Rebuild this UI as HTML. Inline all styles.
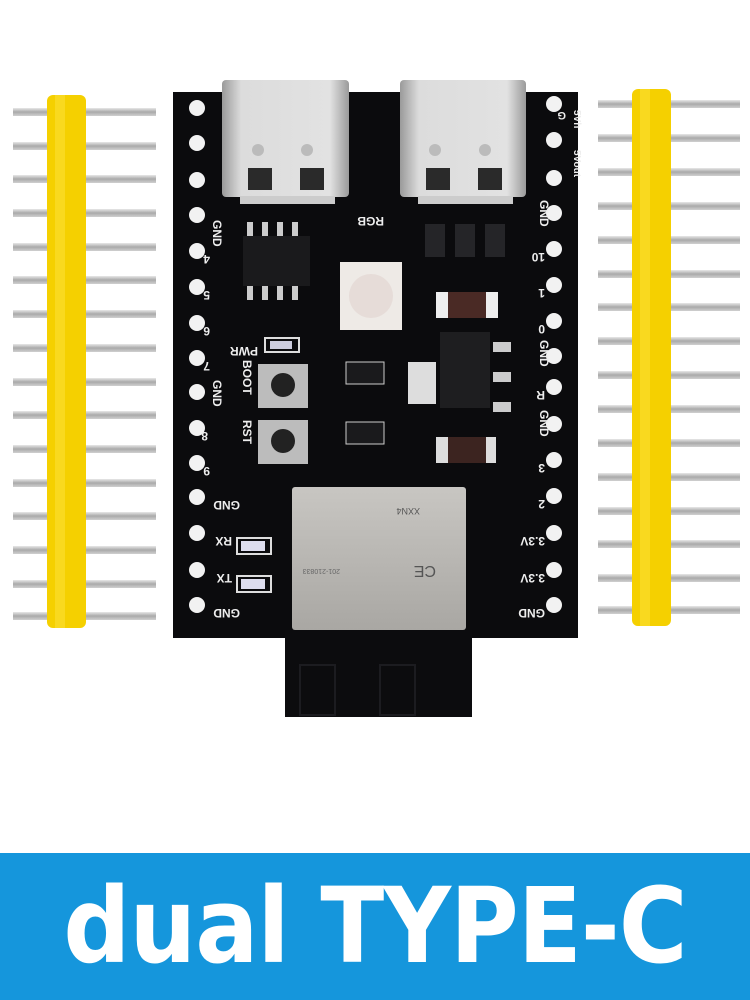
<!DOCTYPE html>
<html><head><meta charset="utf-8"><style>
html,body{margin:0;padding:0;background:#fff}
body{width:750px;height:1000px;position:relative;overflow:hidden}
svg{position:absolute;left:0;top:0}
.banner{position:absolute;left:0;top:853px;width:750px;height:147px;background:#1596dc}
.banner div{position:absolute;left:0;top:0;width:750px;text-align:center;color:#fff;font:bold 104px "DejaVu Sans","Liberation Sans",sans-serif;line-height:147px;transform:scaleX(0.9);transform-origin:375px 0;letter-spacing:-1px}
</style></head><body>
<svg width="750" height="860" xmlns="http://www.w3.org/2000/svg" font-family="Liberation Sans, sans-serif">
<defs>
<linearGradient id="pin" x1="0" y1="0" x2="0" y2="1"><stop offset="0" stop-color="#e8e8e8"/><stop offset="0.5" stop-color="#a9a9a9"/><stop offset="1" stop-color="#d0d0d0"/></linearGradient>
<linearGradient id="usb" x1="0" y1="0" x2="1" y2="0"><stop offset="0" stop-color="#9a9a9a"/><stop offset="0.15" stop-color="#dcdcdc"/><stop offset="0.85" stop-color="#e2e2e2"/><stop offset="1" stop-color="#9a9a9a"/></linearGradient>
<linearGradient id="shield" x1="0" y1="0" x2="0" y2="1"><stop offset="0" stop-color="#c8c6c2"/><stop offset="1" stop-color="#a9a7a3"/></linearGradient>
</defs>
<!-- left header pins -->
<g fill="url(#pin)">
<rect x="13" y="108" width="143" height="8"/><rect x="13" y="142" width="143" height="8"/><rect x="13" y="175" width="143" height="8"/><rect x="13" y="209" width="143" height="8"/><rect x="13" y="243" width="143" height="8"/><rect x="13" y="276" width="143" height="8"/><rect x="13" y="310" width="143" height="8"/><rect x="13" y="344" width="143" height="8"/><rect x="13" y="378" width="143" height="8"/><rect x="13" y="411" width="143" height="8"/><rect x="13" y="445" width="143" height="8"/><rect x="13" y="479" width="143" height="8"/><rect x="13" y="512" width="143" height="8"/><rect x="13" y="546" width="143" height="8"/><rect x="13" y="580" width="143" height="8"/><rect x="13" y="612" width="143" height="8"/>
</g>
<rect x="47" y="95" width="39" height="533" rx="6" fill="#f5d000"/>
<rect x="55" y="95" width="10" height="533" fill="#fbe033" opacity="0.6"/>
<!-- right header pins -->
<g fill="url(#pin)">
<rect x="598" y="100" width="142" height="8"/><rect x="598" y="134" width="142" height="8"/><rect x="598" y="168" width="142" height="8"/><rect x="598" y="202" width="142" height="8"/><rect x="598" y="236" width="142" height="8"/><rect x="598" y="270" width="142" height="8"/><rect x="598" y="303" width="142" height="8"/><rect x="598" y="337" width="142" height="8"/><rect x="598" y="371" width="142" height="8"/><rect x="598" y="405" width="142" height="8"/><rect x="598" y="439" width="142" height="8"/><rect x="598" y="473" width="142" height="8"/><rect x="598" y="507" width="142" height="8"/><rect x="598" y="540" width="142" height="8"/><rect x="598" y="574" width="142" height="8"/><rect x="598" y="606" width="142" height="8"/>
</g>
<rect x="632" y="89" width="39" height="537" rx="6" fill="#f5d000"/>
<rect x="640" y="89" width="10" height="537" fill="#fbe033" opacity="0.6"/>
<!-- board -->
<rect x="173" y="92" width="405" height="546" fill="#0b0b0d"/>
<rect x="285" y="630" width="187" height="87" fill="#0c0c0e"/>
<g stroke="#1c1c20" stroke-width="2" fill="none"><rect x="300" y="665" width="35" height="50"/><rect x="380" y="665" width="35" height="50"/></g>
<!-- USB connectors -->
<rect x="222" y="80" width="127" height="117" rx="4" fill="url(#usb)"/>
<rect x="400" y="80" width="126" height="117" rx="4" fill="url(#usb)"/>
<g fill="#2a2a2a"><rect x="248" y="168" width="24" height="22"/><rect x="300" y="168" width="24" height="22"/><rect x="426" y="168" width="24" height="22"/><rect x="478" y="168" width="24" height="22"/></g>
<g fill="#bbb"><circle cx="258" cy="150" r="6"/><circle cx="307" cy="150" r="6"/><circle cx="435" cy="150" r="6"/><circle cx="485" cy="150" r="6"/></g>
<g fill="#ccc"><rect x="240" y="196" width="95" height="8"/><rect x="418" y="196" width="95" height="8"/></g>
<!-- ICs -->
<rect x="243" y="236" width="67" height="50" fill="#1a1a1c"/>
<g fill="#ccc"><rect x="247" y="222" width="6" height="14"/><rect x="262" y="222" width="6" height="14"/><rect x="277" y="222" width="6" height="14"/><rect x="292" y="222" width="6" height="14"/><rect x="247" y="286" width="6" height="14"/><rect x="262" y="286" width="6" height="14"/><rect x="277" y="286" width="6" height="14"/><rect x="292" y="286" width="6" height="14"/></g>
<rect x="340" y="262" width="62" height="68" fill="#eeeae6"/>
<circle cx="371" cy="296" r="22" fill="#e6dcd8"/>
<g fill="#252528"><rect x="425" y="224" width="20" height="33"/><rect x="455" y="224" width="20" height="33"/><rect x="485" y="224" width="20" height="33"/></g>
<rect x="436" y="292" width="62" height="26" fill="#eee"/><rect x="448" y="292" width="38" height="26" fill="#4a2a25"/>
<rect x="440" y="332" width="50" height="76" fill="#1e1e20"/>
<rect x="408" y="362" width="28" height="42" fill="#ddd"/>
<g fill="#ccc"><rect x="493" y="342" width="18" height="10"/><rect x="493" y="372" width="18" height="10"/><rect x="493" y="402" width="18" height="10"/></g>
<rect x="436" y="437" width="60" height="26" fill="#ddd"/><rect x="448" y="437" width="38" height="26" fill="#3c2420"/>
<rect x="346" y="362" width="38" height="22" fill="#1a1a1c" stroke="#ccc" stroke-width="1"/>
<rect x="346" y="422" width="38" height="22" fill="#1a1a1c" stroke="#ccc" stroke-width="1"/>
<!-- buttons -->
<rect x="258" y="364" width="50" height="44" fill="#bcbcbc"/><circle cx="283" cy="385" r="12" fill="#222"/>
<rect x="258" y="420" width="50" height="44" fill="#bcbcbc"/><circle cx="283" cy="441" r="12" fill="#222"/>
<rect x="265" y="338" width="34" height="14" fill="none" stroke="#ddd" stroke-width="2"/><rect x="270" y="341" width="22" height="8" fill="#ccd"/>
<rect x="237" y="538" width="34" height="16" fill="none" stroke="#ddd" stroke-width="2"/><rect x="241" y="541" width="24" height="10" fill="#dde"/>
<rect x="237" y="576" width="34" height="16" fill="none" stroke="#ddd" stroke-width="2"/><rect x="241" y="579" width="24" height="10" fill="#dde"/>
<!-- shield -->
<rect x="292" y="487" width="174" height="143" rx="3" fill="url(#shield)"/>
<text x="420" y="514" font-size="9" fill="#555" transform="rotate(180 420 511)">XXN4</text>
<text x="380" y="575" font-size="7" fill="#666" transform="rotate(180 360 572)">201-210833</text>
<text x="420" y="578" font-size="16" fill="#555" transform="rotate(180 428 572)">CE</text>
<!-- holes -->
<g fill="#f2f2f2">
<circle cx="197" cy="108" r="8"/><circle cx="197" cy="143" r="8"/><circle cx="197" cy="180" r="8"/><circle cx="197" cy="215" r="8"/><circle cx="197" cy="251" r="8"/><circle cx="197" cy="287" r="8"/><circle cx="197" cy="323" r="8"/><circle cx="197" cy="358" r="8"/><circle cx="197" cy="392" r="8"/><circle cx="197" cy="428" r="8"/><circle cx="197" cy="463" r="8"/><circle cx="197" cy="497" r="8"/><circle cx="197" cy="533" r="8"/><circle cx="197" cy="570" r="8"/><circle cx="197" cy="605" r="8"/>
<circle cx="554" cy="104" r="8"/><circle cx="554" cy="140" r="8"/><circle cx="554" cy="178" r="8"/><circle cx="554" cy="213" r="8"/><circle cx="554" cy="249" r="8"/><circle cx="554" cy="285" r="8"/><circle cx="554" cy="321" r="8"/><circle cx="554" cy="356" r="8"/><circle cx="554" cy="387" r="8"/><circle cx="554" cy="424" r="8"/><circle cx="554" cy="460" r="8"/><circle cx="554" cy="496" r="8"/><circle cx="554" cy="533" r="8"/><circle cx="554" cy="570" r="8"/><circle cx="554" cy="605" r="8"/>
</g>
<!-- labels (upside-down silkscreen) -->
<g fill="#eee" font-size="12" font-weight="bold">
<text transform="translate(213,220) rotate(90)">GND</text>
<text transform="translate(210,255) rotate(180)">4</text>
<text transform="translate(210,291) rotate(180)">5</text>
<text transform="translate(210,327) rotate(180)">6</text>
<text transform="translate(210,362) rotate(180)">7</text>
<text transform="translate(213,380) rotate(90)">GND</text>
<text transform="translate(208,432) rotate(180)">8</text>
<text transform="translate(210,467) rotate(180)">9</text>
<text transform="translate(240,501) rotate(180)">GND</text>
<text transform="translate(232,537) rotate(180)">RX</text>
<text transform="translate(232,574) rotate(180)">TX</text>
<text transform="translate(240,609) rotate(180)">GND</text>
<text transform="translate(258,347) rotate(180)">PWR</text>
<text transform="translate(243,360) rotate(90)">BOOT</text>
<text transform="translate(243,420) rotate(90)">RST</text>
<text transform="translate(384,217) rotate(180)">RGB</text>
<text transform="translate(540,200) rotate(90)">GND</text>
<text transform="translate(545,253) rotate(180)">10</text>
<text transform="translate(545,289) rotate(180)">1</text>
<text transform="translate(545,325) rotate(180)">0</text>
<text transform="translate(540,340) rotate(90)">GND</text>
<text transform="translate(545,391) rotate(180)">R</text>
<text transform="translate(540,410) rotate(90)">GND</text>
<text transform="translate(545,464) rotate(180)">3</text>
<text transform="translate(545,500) rotate(180)">2</text>
<text transform="translate(545,537) rotate(180)">3.3V</text>
<text transform="translate(545,574) rotate(180)">3.3V</text>
<text transform="translate(545,609) rotate(180)">GND</text>
<text transform="translate(566,112) rotate(180)" font-size="11">G</text>
<text transform="translate(574,110) rotate(90)" font-size="10">5Vh</text>
<text transform="translate(574,150) rotate(90)" font-size="10">5Vout</text>
</g>
</svg>
<div class="banner"><div>dual TYPE-C</div></div>
</body></html>
